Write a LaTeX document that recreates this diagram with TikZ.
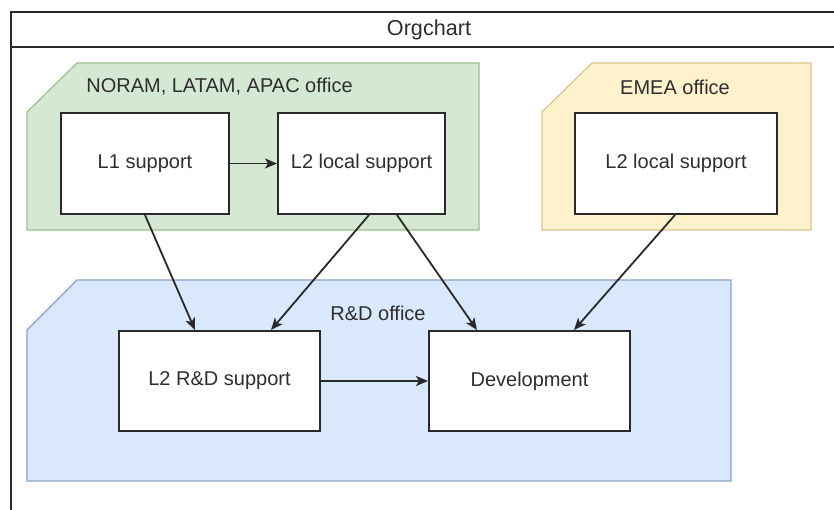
\documentclass[tikz,border=0pt]{standalone}
\usepackage{fontspec}
\setmainfont{Liberation Sans}
\usetikzlibrary{arrows.meta}
\definecolor{txt}{HTML}{2E2E2E}
\definecolor{greenfill}{HTML}{D5E8D4}
\definecolor{greendraw}{HTML}{9CBF8C}
\definecolor{yellowfill}{HTML}{FFF2CC}
\definecolor{yellowdraw}{HTML}{D9C48A}
\definecolor{bluefill}{HTML}{DAE8FC}
\definecolor{bluedraw}{HTML}{8AA2C4}
\definecolor{framec}{HTML}{2A2A2A}
\tikzset{
  stepbox/.style={draw=framec, line width=2pt, fill=white, text=txt,
    inner sep=0pt, minimum height=101pt, font=\fontsize{20}{24}\selectfont},
  officelabel/.style={text=txt, inner sep=0pt, font=\fontsize{20}{24}\selectfont},
  office/.style={line width=1.2pt},
  conn/.style={draw=framec, line width=1.8pt, -{Stealth[length=12pt,width=10pt,inset=3pt]}},
}
\begin{document}
\begin{tikzpicture}[x=1pt,y=-1pt]
\useasboundingbox (0,0) rectangle (834,509);
\fill[white] (0,0) rectangle (834,509);
% pool frame (clipped at right and bottom)
\begin{scope}
\clip (0,0) rectangle (834,509);
\draw[framec, line width=2pt] (11,12) rectangle (860,540);
\draw[framec, line width=2pt] (11,47) -- (860,47);
\end{scope}
\node[text=txt, inner sep=0pt, font=\fontsize{21.6}{26}\selectfont] (title) at (429,29.5) {Orgchart};
% offices
\draw[office, fill=greenfill, draw=greendraw] (77,63) -- (479,63) -- (479,230) -- (27,230) -- (27,112) -- cycle;
\draw[office, fill=yellowfill, draw=yellowdraw] (592,63) -- (811,63) -- (811,230) -- (542,230) -- (542,112) -- cycle;
\draw[office, fill=bluefill, draw=bluedraw] (77,280) -- (731,280) -- (731,481) -- (27,481) -- (27,330) -- cycle;
\node[officelabel] (lamer) at (219.5,87) {NORAM, LATAM, APAC office};
\node[officelabel] (lemea) at (675,87) {EMEA office};
\node[officelabel] (lrd) at (378,313) {R\&D office};
% boxes
\node[stepbox, minimum width=168pt] (l1) at (145,163.5) {L1 support};
\node[stepbox, minimum width=167pt] (l2loc) at (361.5,163.5) {L2 local support};
\node[stepbox, minimum width=202pt] (l2emea) at (676,163.5) {L2 local support};
\node[stepbox, minimum width=201pt, minimum height=100pt] (l2rd) at (219.5,381) {L2 R\&D support};
\node[stepbox, minimum width=201pt, minimum height=100pt] (dev) at (529.5,381) {Development};
% connectors
\draw[conn] (l1.east) -- (l2loc.west);
\draw[conn] (l1.south) -- ([xshift=77pt]l2rd.north west);
\draw[conn] ([xshift=7.5pt]l2loc.south) -- ([xshift=153pt]l2rd.north west);
\draw[conn] ([xshift=35.5pt]l2loc.south) -- ([xshift=49pt]dev.north west);
\draw[conn] ([xshift=-1pt]l2emea.south) -- ([xshift=146pt]dev.north west);
\draw[conn] (l2rd.east) -- (dev.west);
\end{tikzpicture}
\end{document}
